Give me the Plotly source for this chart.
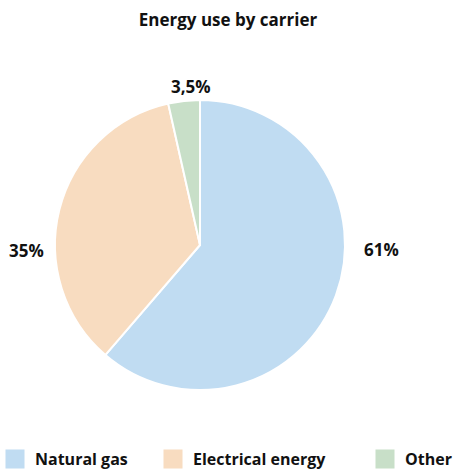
import plotly.graph_objects as go

categories = ["Natural gas", "Electrical energy", "Other"]
values = [61, 35, 3.5]
colors = ["#c0dcf2", "#f8dcc0", "#c8dfc8"]
title = "Energy use by carrier"

W, H = 456, 474
FONT = "Open Sans"
TXT = "#111111"

def fmt(v):
    s = ("%g" % v).replace(".", ",")
    return s + "%"

fig = go.Figure()
fig.add_trace(go.Pie(
    labels=categories,
    values=values,
    marker=dict(colors=colors, line=dict(color="white", width=2)),
    sort=False,
    direction="clockwise",
    rotation=0,
    textinfo="none",
    hoverinfo="label+percent",
    domain=dict(x=[55 / W, 345 / W], y=[1 - 390 / H, 1 - 100 / H]),
    showlegend=False,
))

# legend entries (one legend per entry so each can be placed like the reference)
legend_names = ["legend", "legend2", "legend3"]
legend_text_x = [34, 192, 404]
for name, col, lg in zip(categories, colors, legend_names):
    fig.add_trace(go.Scatter(x=[None], y=[None], mode="markers", name=name,
                             marker=dict(symbol="square", size=16, color=col,
                                         line=dict(color=col, width=3)),
                             legend=lg, showlegend=True, hoverinfo="skip"))

# outside labels
label_pos = [(381, 249), (26, 250), (191, 86)]
for v, (px, py) in zip(values, label_pos):
    fig.add_annotation(x=px / W, y=1 - py / H, xref="paper", yref="paper",
                       xanchor="center", yanchor="middle",
                       text=fmt(v), showarrow=False,
                       font=dict(family=FONT, size=17, color=TXT, weight="bold"))

legend_common = dict(orientation="h", yanchor="middle", y=1 - 459 / H, xanchor="left",
                     font=dict(family=FONT, size=16, color=TXT, weight="bold"),
                     bgcolor="rgba(0,0,0,0)", itemwidth=30)
layout_legends = {}
for lg, tx in zip(legend_names, legend_text_x):
    d = dict(legend_common)
    d["x"] = (tx - 39) / W
    layout_legends[lg] = d

fig.update_layout(
    width=W, height=H,
    margin=dict(l=0, r=0, t=0, b=0, autoexpand=False),
    paper_bgcolor="white",
    plot_bgcolor="white",
    xaxis=dict(visible=False),
    yaxis=dict(visible=False),
    title=dict(text=title, x=0.5, xanchor="center",
               y=1 - 20 / H, yanchor="middle",
               font=dict(family=FONT, size=17, color=TXT, weight="bold")),
    **layout_legends,
)
fig.write_html("out.html")
